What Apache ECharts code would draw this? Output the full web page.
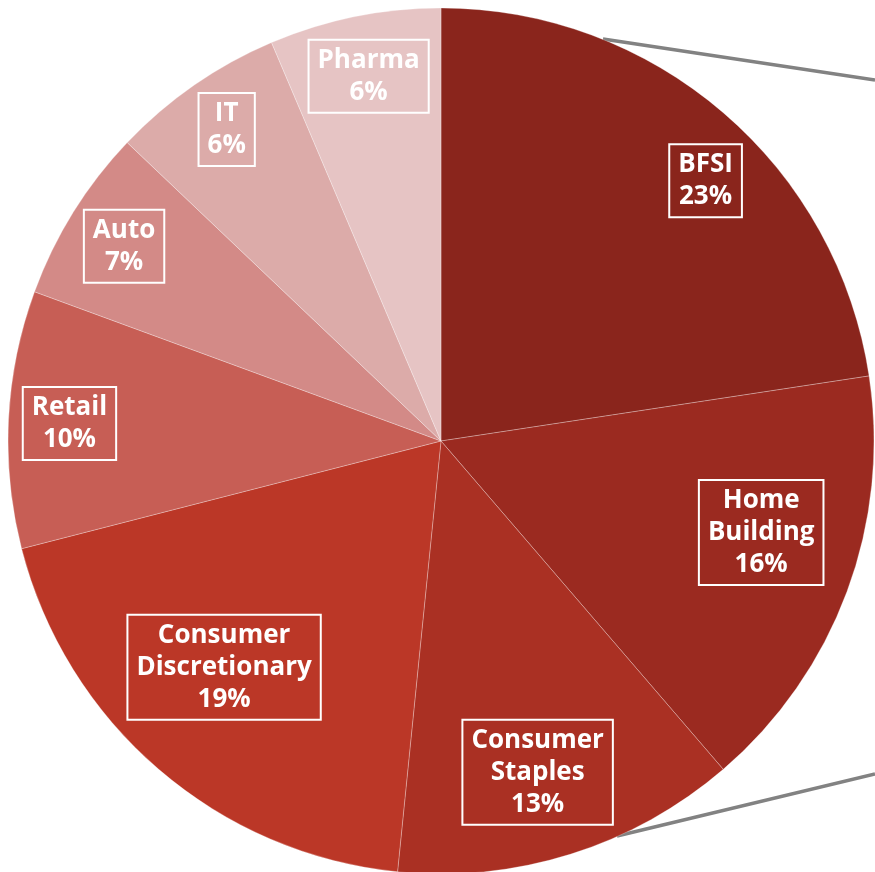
<!DOCTYPE html>
<html>
<head>
<meta charset="utf-8">
<script src="https://cdn.jsdelivr.net/npm/echarts@6/dist/echarts.min.js"></script>
<style>
  html, body { margin: 0; padding: 0; background: #fff; }
  #chart { width: 875px; height: 872px; }
</style>
</head>
<body>
<div id="chart"></div>
<script>
// sector shares, clockwise from 12 o'clock (slice sizes)
const categories = ['BFSI', 'Home\nBuilding', 'Consumer\nStaples', 'Consumer\nDiscretionary', 'Retail', 'Auto', 'IT', 'Pharma'];
const shares = [22.6, 16.1, 12.9, 19.4, 9.6, 6.5, 6.5, 6.4];
// percentages as printed in the labels
const pctLabels = [23, 16, 13, 19, 10, 7, 6, 6];
const sliceColors = ['#8a251c', '#9b2a20', '#aa3023', '#bb3727', '#c75e55', '#d38a87', '#dcaba9', '#e6c4c4'];

// where each label box sits: fraction of radius, angle nudge in degrees
const labelRadius = [0.857, 0.769, 0.797, 0.724, 0.859, 0.859, 0.873, 0.859];
const labelTurn = [4.8, -4.4, 1.2, 3.1, -0.2, -0.3, 0.2, 0.3];

const cx = 441, cy = 441, R = 433;

const total = shares.reduce((a, b) => a + b, 0);
const midAngles = [];
let acc = 0;
shares.forEach(v => {
  midAngles.push((acc + v / 2) / total * 360);
  acc += v;
});

const chart = echarts.init(document.getElementById('chart'));
chart.setOption({
  animation: false,
  graphic: [
    {type: 'line', z: 0, shape: {x1: 603, y1: 39, x2: 875, y2: 80}, style: {stroke: '#828282', lineWidth: 3.5}},
    {type: 'line', z: 0, shape: {x1: 617, y1: 836, x2: 875, y2: 774}, style: {stroke: '#828282', lineWidth: 3.5}}
  ],
  series: [{
    type: 'pie',
    center: [cx, cy],
    radius: [0, R],
    startAngle: 90,
    clockwise: true,
    z: 2,
    data: categories.map((name, i) => ({
      name: name,
      value: shares[i],
      itemStyle: {color: sliceColors[i]}
    })),
    itemStyle: {borderColor: 'rgba(255,255,255,0.35)', borderWidth: 0.8},
    label: {
      show: true,
      position: 'inside',
      formatter: p => p.name + '\n' + pctLabels[p.dataIndex] + '%',
      color: '#fff',
      fontFamily: 'Open Sans',
      fontWeight: 'bold',
      fontSize: 26,
      lineHeight: 32,
      align: 'center',
      borderColor: '#fff',
      borderWidth: 2,
      padding: [5, 9, 4, 9]
    },
    labelLine: {show: false},
    labelLayout: function (params) {
      const i = params.dataIndex;
      const a = (midAngles[i] + labelTurn[i]) * Math.PI / 180;
      const r = R * labelRadius[i];
      return {
        x: cx + r * Math.sin(a),
        y: cy - r * Math.cos(a)
      };
    },
    emphasis: {disabled: true}
  }]
});
</script>
</body>
</html>
